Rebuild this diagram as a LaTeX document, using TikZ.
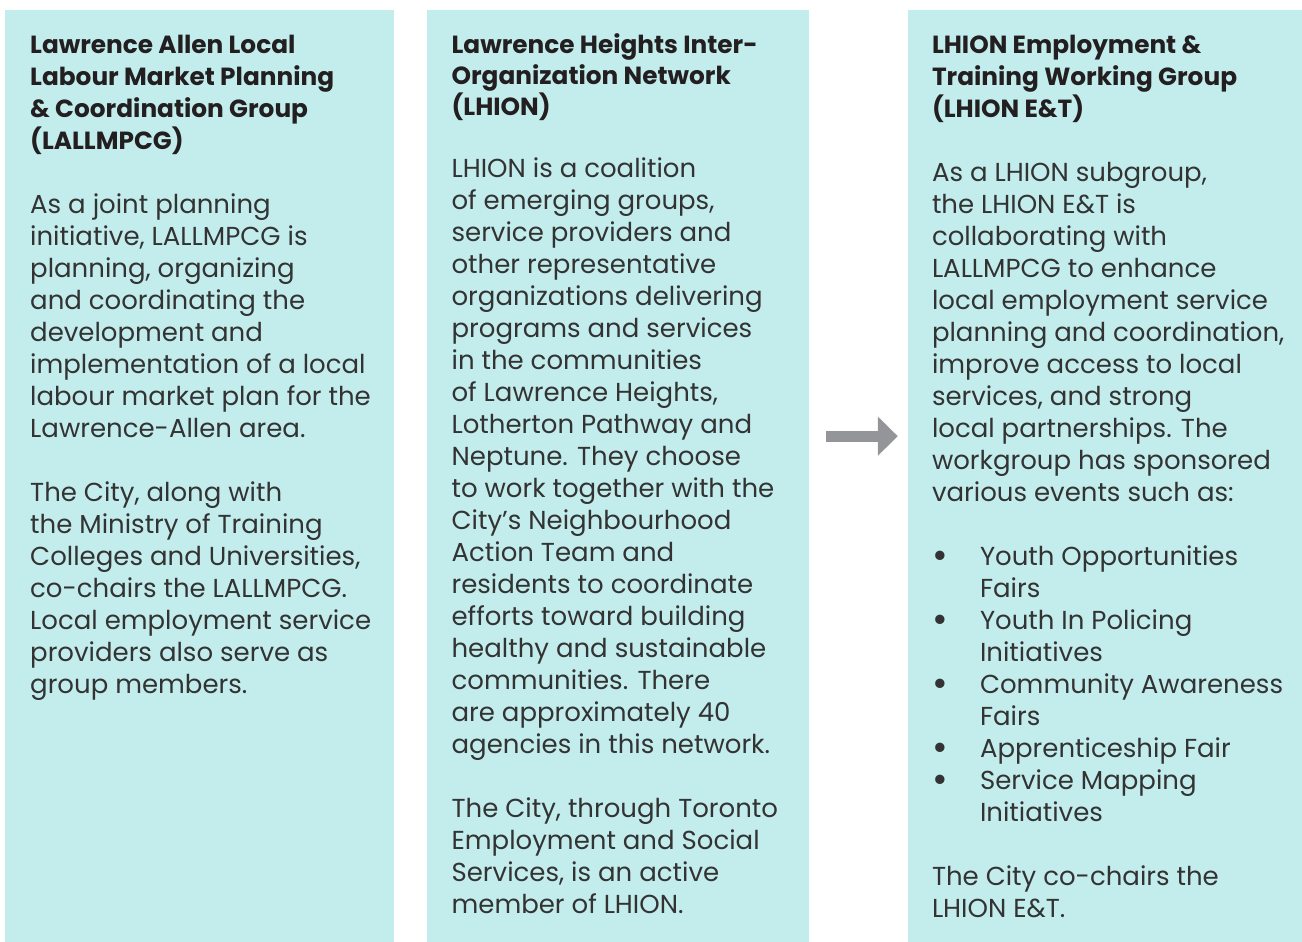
\documentclass[tikz,border=0pt]{standalone}
\usepackage{fontspec}
\setmainfont{Poppins}
\usepackage{tikz}
\usetikzlibrary{positioning,arrows.meta}

\definecolor{panelFill}{HTML}{C3EDED}
\definecolor{arrowGray}{HTML}{939598}
\definecolor{titleInk}{HTML}{231F20}
\definecolor{bodyInk}{HTML}{333333}

\newcommand{\itemDot}{\makebox[48pt][l]{\raisebox{-3pt}{\fontsize{38}{32}\selectfont\textbullet}}}
\newcommand{\itemGap}{\hspace*{48pt}}
\newcommand{\panelTitle}[1]{{\fontsize{24.8}{32}\selectfont\bfseries\color{titleInk}#1}}

\begin{document}
\begin{tikzpicture}[x=1pt,y=-1pt,
        panel/.style={
            rectangle, fill = panelFill, draw = none, inner sep = 0pt,
            minimum height = 932pt
        },
        panelText/.style={
            inner sep = 0pt, align = left, color = bodyInk,
            font = \fontsize{26}{32}\selectfont
        },
        bigArrow/.style={
            draw = arrowGray, line width = 11pt,
            -{Triangle[width=38pt,length=20pt]}
        },
    ]
        \useasboundingbox (0,0) rectangle (1302,942);

        \node (lallmpcg) [panel,minimum width=389pt,anchor=north west] at (5,10) {};
        \node (lhion) [panel,minimum width=382pt,right=32pt of lallmpcg.north east,anchor=north west] {};
        \node (lhionET) [panel,minimum width=395pt,right=99pt of lhion.north east,anchor=north west] {};

        \node (lallmpcgText) [panelText,below right=25pt and 25pt of lallmpcg.north west] {
            \panelTitle{Lawrence Allen Local}\\
            \panelTitle{Labour Market Planning}\\
            \panelTitle{\& Coordination Group}\\
            \panelTitle{(LALLMPCG)}\\[32pt]
            As a joint planning\\
            initiative, LALLMPCG is\\
            planning, organizing\\
            and coordinating the\\
            development and\\
            implementation of a local\\
            labour market plan for the\\
            Lawrence-Allen area.\\[32pt]
            The City, along with\\
            the Ministry of Training\\
            Colleges and Universities,\\
            co-chairs the LALLMPCG.\\
            Local employment service\\
            providers also serve as\\
            group members.
        };

        \node (lhionText) [panelText,below right=23pt and 25pt of lhion.north west] {
            \panelTitle{Lawrence Heights Inter-}\\[-1pt]
            \panelTitle{Organization Network}\\[-1pt]
            \panelTitle{(LHION)}\\[30pt]
            LHION is a coalition\\
            of emerging groups,\\
            service providers and\\
            other representative\\
            organizations delivering\\
            programs and services\\
            in the communities\\
            of Lawrence Heights,\\
            Lotherton Pathway and\\
            Neptune. They choose\\
            to work together with the\\
            City’s Neighbourhood\\
            Action Team and\\
            residents to coordinate\\
            efforts toward building\\
            healthy and sustainable\\
            communities. There\\
            are approximately 40\\
            agencies in this network.\\[32pt]
            The City, through Toronto\\
            Employment and Social\\
            Services, is an active\\
            member of LHION.
        };

        \node (lhionETText) [panelText,below right=25pt and 24pt of lhionET.north west] {
            \panelTitle{LHION Employment \&}\\
            \panelTitle{Training Working Group}\\
            \panelTitle{(LHION E\&T)}\\[32pt]
            As a LHION subgroup,\\
            the LHION E\&T is\\
            collaborating with\\
            LALLMPCG to enhance\\
            local employment service\\
            planning and coordination,\\
            improve access to local\\
            services, and strong\\
            local partnerships. The\\
            workgroup has sponsored\\
            various events such as:\\[32pt]
            \itemDot Youth Opportunities\\
            \itemGap Fairs\\
            \itemDot Youth In Policing\\
            \itemGap Initiatives\\
            \itemDot Community Awareness\\
            \itemGap Fairs\\
            \itemDot Apprenticeship Fair\\
            \itemDot Service Mapping\\
            \itemGap Initiatives\\[32pt]
            The City co-chairs the\\
            LHION E\&T.
        };

        \draw[bigArrow,shorten <=17pt,shorten >=10pt] ([yshift=40pt]lhion.east) -- ([yshift=40pt]lhionET.west);

    \end{tikzpicture}
\end{document}
